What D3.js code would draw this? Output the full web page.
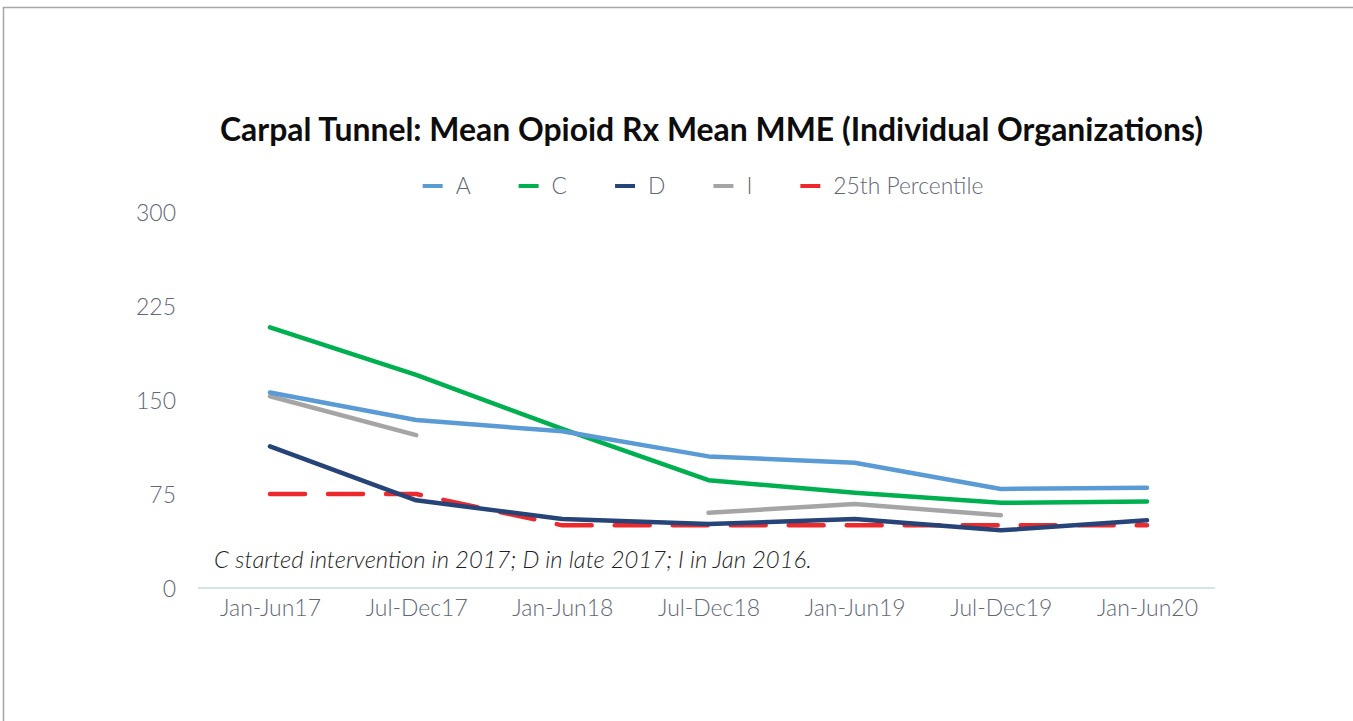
<!DOCTYPE html>
<html>
<head>
<meta charset="utf-8">
<script src="https://cdn.jsdelivr.net/npm/d3@7"></script>
<style>
  html, body { margin: 0; padding: 0; background: #fff; }
  svg { display: block; }
  text { font-family: Lato, "Noto Sans", sans-serif; }
</style>
</head>
<body>
<svg id="chart" width="1353" height="721"></svg>
<script>
const categories = ["Jan-Jun17","Jul-Dec17","Jan-Jun18","Jul-Dec18","Jan-Jun19","Jul-Dec19","Jan-Jun20"];
const seriesA   = [156, 134, 125, 105, 100, 79, 80];
const seriesC   = [208, 170, 127, 86, 76, 68, 69];
const seriesD   = [113, 70, 55, 51, 55, 46, 54];
const seriesI   = [153, 122, null, 60, 67, 58, null];
const series25  = [75, 75, 50, 50, 50, 50, 50];
const yTicks    = [0, 75, 150, 225, 300];
const titleText = "Carpal Tunnel: Mean Opioid Rx Mean MME (Individual Organizations)";
const noteText  = "C started intervention in 2017; D in late 2017; I in Jan 2016.";

const series = [
  {name: "A", values: seriesA, color: "#5B9BD5"},
  {name: "C", values: seriesC, color: "#00B050"},
  {name: "D", values: seriesD, color: "#264478"},
  {name: "I", values: seriesI, color: "#A5A5A5"},
  {name: "25th Percentile", values: series25, color: "#EC2A2E", dash: "35,23"}
];
const drawOrder = ["25th Percentile", "I", "D", "C", "A"];

const svg = d3.select("#chart");

// outer frame (top and left edges visible)
svg.append("path")
  .attr("d", "M3.5,721 L3.5,7.5 L1353,7.5")
  .attr("fill", "none").attr("stroke", "#a6a6a6").attr("stroke-width", 1.5);

const x = d3.scalePoint().domain(categories).range([270, 1147]);
const y = d3.scaleLinear().domain([0, 300]).range([588, 212]);

function fitWidth(sel, target) {
  const fs = parseFloat(sel.attr("font-size"));
  const w = sel.node().getComputedTextLength();
  sel.attr("font-size", (fs * target / w).toFixed(2));
  return fs * target / w;
}

// title
const title = svg.append("text")
  .attr("x", 711.5).attr("y", 141)
  .attr("text-anchor", "middle")
  .attr("font-size", 26).attr("font-weight", 700).attr("fill", "#0d0d0d")
  .text(titleText);
fitWidth(title, 983);

// baseline axis
svg.append("line")
  .attr("x1", 198).attr("x2", 1215)
  .attr("y1", y(0)).attr("y2", y(0))
  .attr("stroke", "#D9E1EA").attr("stroke-width", 2);

// y axis labels
const yAxis = d3.axisLeft(y).tickValues(yTicks).tickSize(0).tickPadding(0);
const yg = svg.append("g").attr("transform", "translate(176,0)").call(yAxis);
yg.select(".domain").remove();
yg.selectAll("text")
  .attr("font-size", 20).attr("fill", "#5F6877").attr("font-weight", 300)
  .attr("font-family", "Lato, 'Noto Sans', sans-serif")
  .attr("dy", "0.35em");
{
  const top = yg.selectAll("text").filter(d => d === 300);
  const w = top.node().getComputedTextLength();
  yg.selectAll("text").attr("font-size", (20 * 40 / w).toFixed(2));
}

// x axis labels
const xAxis = d3.axisBottom(x).tickSize(0).tickPadding(0);
const xg = svg.append("g").attr("transform", "translate(0,608)").call(xAxis);
xg.select(".domain").remove();
xg.selectAll("text")
  .attr("font-size", 18).attr("fill", "#5F6877").attr("font-weight", 300)
  .attr("font-family", "Lato, 'Noto Sans', sans-serif")
  .attr("dy", "0.35em");
{
  const first = xg.select("text");
  const w = first.node().getComputedTextLength();
  xg.selectAll("text").attr("font-size", (18 * 101 / w).toFixed(2));
}

// lines
const line = d3.line()
  .defined(d => d.v !== null)
  .x(d => x(d.c))
  .y(d => y(d.v));

drawOrder.forEach(n => {
  const s = series.find(t => t.name === n);
  const pts = categories.map((c, i) => ({c, v: s.values[i]}));
  svg.append("path")
    .datum(pts)
    .attr("d", line)
    .attr("fill", "none")
    .attr("stroke", s.color)
    .attr("stroke-width", 4.5)
    .attr("stroke-linecap", "round")
    .attr("stroke-linejoin", "round")
    .attr("stroke-dasharray", s.dash || null);
});

// annotation
const note = svg.append("text")
  .attr("x", 214).attr("y", 568)
  .attr("font-size", 19).attr("font-style", "italic").attr("font-weight", 300)
  .attr("fill", "#1f1f1f")
  .text(noteText);
fitWidth(note, 598);

// legend: size fitted so the longest label matches the reference width
const probe = svg.append("text").attr("font-size", 19).attr("font-weight", 300)
  .text(series[series.length - 1].name);
const legendFs = 19 * 150 / probe.node().getComputedTextLength();
probe.remove();

const lg = svg.append("g");
let cx = 0;
series.forEach(s => {
  const g = lg.append("g").attr("transform", `translate(${cx},0)`);
  g.append("line").attr("x1", 0).attr("x2", 20).attr("y1", 0).attr("y2", 0)
    .attr("stroke", s.color).attr("stroke-width", 4);
  const t = g.append("text").attr("x", 33).attr("y", 0).attr("dy", "0.35em")
    .attr("font-size", legendFs.toFixed(2)).attr("font-weight", 300)
    .attr("fill", "#5F6877").text(s.name);
  cx += 33 + t.node().getComputedTextLength() + 48;
});
const legendW = cx - 48;
lg.attr("transform", `translate(${703 - legendW / 2},186)`);
</script>
</body>
</html>
